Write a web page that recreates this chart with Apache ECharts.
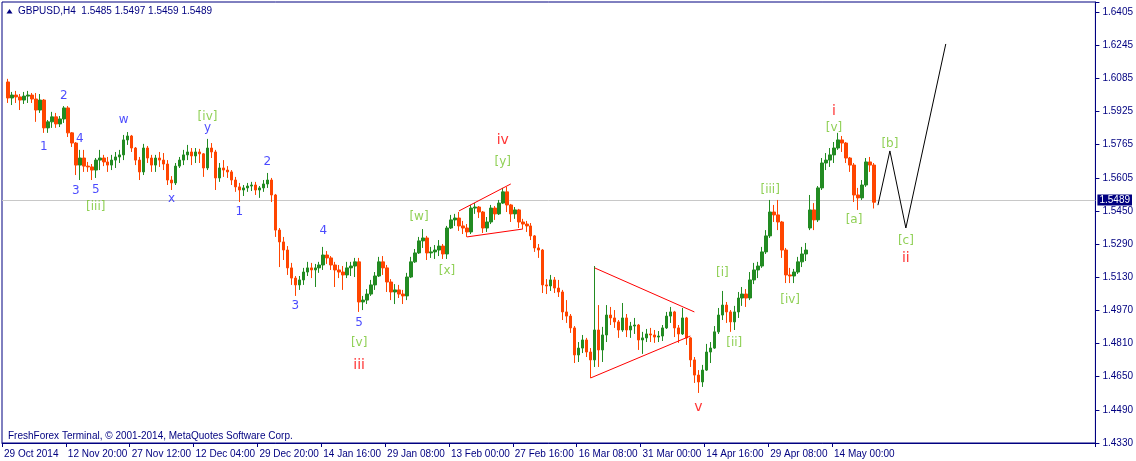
<!DOCTYPE html>
<html><head><meta charset="utf-8">
<script src="https://cdn.jsdelivr.net/npm/echarts@6/dist/echarts.min.js"></script>
<style>html,body{margin:0;padding:0;background:#fff}#c{width:1136px;height:461px}</style>
</head><body><div id="c"></div>
<script>
// ---- data ----
const xLabels = ['29 Oct 2014','12 Nov 20:00','27 Nov 12:00','12 Dec 04:00','29 Dec 20:00','14 Jan 16:00','29 Jan 08:00','13 Feb 00:00','27 Feb 16:00','16 Mar 08:00','31 Mar 00:00','14 Apr 16:00','29 Apr 08:00','14 May 00:00'];
const yLabels = ['1.4330','1.4490','1.4650','1.4810','1.4970','1.5130','1.5290','1.5450','1.5605','1.5765','1.5925','1.6085','1.6245','1.6405'];
const ohlcTitle = ['1.5485','1.5497','1.5459','1.5489'];
const lastPrice = 1.5489;
const firstSlot = 1;
const slotCount = 274;
const labelEvery = 16;
// [open, close, low, high] per 16-hour slot
const candles = [
[1.6068,1.5991,1.5967,1.6083],[1.5991,1.6005,1.5957,1.6020],[1.6005,1.5996,1.5967,1.6025],[1.5996,1.5981,1.5933,1.6010],
[1.5981,1.6000,1.5962,1.6020],[1.6000,1.6005,1.5967,1.6025],[1.6005,1.5986,1.5967,1.6015],[1.5986,1.5933,1.5876,1.6015],
[1.5933,1.5981,1.5919,1.6010],[1.5981,1.5847,1.5823,1.5986],[1.5847,1.5876,1.5823,1.5885],[1.5876,1.5900,1.5847,1.5924],
[1.5900,1.5866,1.5847,1.5919],[1.5866,1.5890,1.5851,1.5904],[1.5890,1.5943,1.5871,1.5952],[1.5943,1.5823,1.5803,1.5952],
[1.5823,1.5774,1.5755,1.5827],[1.5774,1.5668,1.5620,1.5779],[1.5668,1.5702,1.5596,1.5741],[1.5702,1.5663,1.5635,1.5741],
[1.5663,1.5659,1.5635,1.5683],[1.5659,1.5644,1.5596,1.5673],[1.5644,1.5692,1.5606,1.5702],[1.5692,1.5702,1.5644,1.5741],
[1.5702,1.5683,1.5663,1.5717],[1.5683,1.5668,1.5635,1.5707],[1.5668,1.5692,1.5644,1.5717],[1.5692,1.5707,1.5654,1.5731],
[1.5707,1.5717,1.5678,1.5741],[1.5717,1.5789,1.5692,1.5813],[1.5789,1.5808,1.5765,1.5827],[1.5808,1.5750,1.5731,1.5813],
[1.5750,1.5692,1.5668,1.5755],[1.5692,1.5635,1.5596,1.5707],[1.5635,1.5750,1.5620,1.5770],[1.5750,1.5702,1.5678,1.5760],
[1.5702,1.5668,1.5635,1.5717],[1.5668,1.5702,1.5635,1.5717],[1.5702,1.5692,1.5659,1.5731],[1.5692,1.5673,1.5644,1.5726],
[1.5673,1.5596,1.5572,1.5692],[1.5596,1.5582,1.5548,1.5615],[1.5582,1.5663,1.5572,1.5678],[1.5663,1.5692,1.5654,1.5707],
[1.5692,1.5717,1.5668,1.5741],[1.5717,1.5731,1.5692,1.5765],[1.5731,1.5712,1.5668,1.5750],[1.5712,1.5731,1.5678,1.5750],
[1.5731,1.5722,1.5678,1.5746],[1.5722,1.5654,1.5611,1.5726],[1.5654,1.5750,1.5644,1.5794],[1.5750,1.5731,1.5702,1.5774],
[1.5731,1.5606,1.5548,1.5741],[1.5606,1.5654,1.5587,1.5678],[1.5654,1.5644,1.5611,1.5692],[1.5644,1.5635,1.5606,1.5663],
[1.5635,1.5596,1.5572,1.5644],[1.5596,1.5563,1.5539,1.5611],[1.5563,1.5548,1.5490,1.5582],[1.5548,1.5558,1.5519,1.5572],
[1.5558,1.5567,1.5539,1.5582],[1.5567,1.5572,1.5543,1.5587],[1.5572,1.5548,1.5524,1.5587],[1.5548,1.5558,1.5510,1.5567],
[1.5558,1.5577,1.5539,1.5596],[1.5577,1.5596,1.5558,1.5630],[1.5596,1.5524,1.5490,1.5606],[1.5524,1.5355,1.5322,1.5529],
[1.5355,1.5298,1.5177,1.5365],[1.5298,1.5259,1.5211,1.5322],[1.5259,1.5173,1.5139,1.5278],[1.5173,1.5124,1.5091,1.5197],
[1.5124,1.5091,1.5038,1.5134],[1.5091,1.5115,1.5067,1.5134],[1.5115,1.5153,1.5091,1.5173],[1.5153,1.5173,1.5134,1.5202],
[1.5173,1.5163,1.5124,1.5197],[1.5163,1.5173,1.5081,1.5192],[1.5173,1.5187,1.5149,1.5202],[1.5187,1.5235,1.5163,1.5274],
[1.5235,1.5221,1.5192,1.5254],[1.5221,1.5187,1.5163,1.5230],[1.5187,1.5163,1.5081,1.5202],[1.5163,1.5153,1.5124,1.5187],
[1.5153,1.5139,1.5067,1.5182],[1.5139,1.5173,1.5124,1.5202],[1.5173,1.5182,1.5134,1.5202],[1.5182,1.5202,1.5129,1.5221],
[1.5202,1.5009,1.4961,1.5221],[1.5009,1.5018,1.4970,1.5038],[1.5018,1.5047,1.4999,1.5071],[1.5047,1.5091,1.5038,1.5115],
[1.5091,1.5134,1.5067,1.5153],[1.5134,1.5202,1.5129,1.5226],[1.5202,1.5173,1.5139,1.5230],[1.5173,1.5105,1.5057,1.5187],
[1.5105,1.5057,1.5018,1.5119],[1.5057,1.5067,1.4999,1.5095],[1.5067,1.5047,1.5028,1.5091],[1.5047,1.5038,1.4999,1.5067],
[1.5038,1.5129,1.5018,1.5149],[1.5129,1.5202,1.5124,1.5226],[1.5202,1.5245,1.5197,1.5264],[1.5245,1.5303,1.5240,1.5322],
[1.5303,1.5317,1.5269,1.5360],[1.5317,1.5245,1.5211,1.5327],[1.5245,1.5250,1.5221,1.5274],[1.5250,1.5259,1.5216,1.5283],
[1.5259,1.5278,1.5230,1.5307],[1.5278,1.5240,1.5216,1.5288],[1.5240,1.5365,1.5216,1.5375],[1.5365,1.5404,1.5360,1.5428],
[1.5404,1.5413,1.5375,1.5433],[1.5413,1.5375,1.5351,1.5442],[1.5375,1.5365,1.5336,1.5399],[1.5365,1.5346,1.5322,1.5384],
[1.5346,1.5461,1.5336,1.5476],[1.5461,1.5466,1.5433,1.5485],[1.5466,1.5442,1.5413,1.5471],[1.5442,1.5365,1.5341,1.5447],
[1.5365,1.5394,1.5346,1.5418],[1.5394,1.5461,1.5384,1.5476],[1.5461,1.5433,1.5404,1.5471],[1.5433,1.5485,1.5428,1.5500],
[1.5485,1.5539,1.5481,1.5558],[1.5539,1.5476,1.5442,1.5563],[1.5476,1.5433,1.5394,1.5481],[1.5433,1.5452,1.5409,1.5466],
[1.5452,1.5394,1.5365,1.5457],[1.5394,1.5384,1.5360,1.5409],[1.5384,1.5375,1.5346,1.5399],[1.5375,1.5327,1.5307,1.5389],
[1.5327,1.5269,1.5250,1.5331],[1.5269,1.5259,1.5221,1.5288],[1.5259,1.5091,1.5052,1.5264],[1.5091,1.5086,1.5047,1.5119],
[1.5086,1.5115,1.5062,1.5139],[1.5115,1.5076,1.5052,1.5129],[1.5076,1.5057,1.5033,1.5115],[1.5057,1.4961,1.4922,1.5067],
[1.4961,1.4941,1.4908,1.5018],[1.4941,1.4884,1.4860,1.4951],[1.4884,1.4754,1.4715,1.4893],[1.4754,1.4787,1.4720,1.4816],
[1.4787,1.4826,1.4763,1.4850],[1.4826,1.4768,1.4744,1.4836],[1.4768,1.4730,1.4643,1.4787],[1.4730,1.4874,1.4696,1.5182],
[1.4874,1.4778,1.4696,1.4994],[1.4778,1.4850,1.4720,1.4889],[1.4850,1.4946,1.4816,1.4994],[1.4946,1.4932,1.4898,1.4985],
[1.4932,1.4913,1.4884,1.4970],[1.4913,1.4874,1.4836,1.4922],[1.4874,1.4932,1.4865,1.5004],[1.4932,1.4874,1.4840,1.4951],
[1.4874,1.4893,1.4836,1.4913],[1.4893,1.4898,1.4855,1.4932],[1.4898,1.4826,1.4778,1.4903],[1.4826,1.4836,1.4759,1.4865],
[1.4836,1.4855,1.4816,1.4879],[1.4855,1.4850,1.4816,1.4884],[1.4850,1.4840,1.4812,1.4874],[1.4840,1.4845,1.4816,1.4869],
[1.4845,1.4884,1.4821,1.4898],[1.4884,1.4941,1.4879,1.4961],[1.4941,1.4961,1.4908,1.4985],[1.4961,1.4884,1.4840,1.4966],
[1.4884,1.4855,1.4812,1.4898],[1.4855,1.4932,1.4850,1.4980],[1.4932,1.4836,1.4802,1.4937],[1.4836,1.4730,1.4696,1.4840],
[1.4730,1.4657,1.4619,1.4744],[1.4657,1.4624,1.4571,1.4681],[1.4624,1.4681,1.4600,1.4706],[1.4681,1.4768,1.4677,1.4807],
[1.4768,1.4787,1.4715,1.4816],[1.4787,1.4865,1.4783,1.4893],[1.4865,1.4946,1.4855,1.4980],[1.4946,1.4994,1.4922,1.5062],
[1.4994,1.4961,1.4908,1.5009],[1.4961,1.4913,1.4865,1.4970],[1.4913,1.4961,1.4874,1.4990],[1.4961,1.5028,1.4932,1.5057],
[1.5028,1.5047,1.4990,1.5081],[1.5047,1.5028,1.4985,1.5071],[1.5028,1.5115,1.5018,1.5153],[1.5115,1.5163,1.5095,1.5197],
[1.5163,1.5182,1.5124,1.5202],[1.5182,1.5250,1.5173,1.5274],[1.5250,1.5327,1.5240,1.5355],[1.5327,1.5442,1.5317,1.5500],
[1.5442,1.5428,1.5394,1.5476],[1.5428,1.5394,1.5355,1.5500],[1.5394,1.5259,1.5221,1.5399],[1.5259,1.5139,1.5100,1.5269],
[1.5139,1.5134,1.5100,1.5173],[1.5134,1.5153,1.5100,1.5168],[1.5153,1.5202,1.5144,1.5226],[1.5202,1.5240,1.5177,1.5274],
[1.5240,1.5259,1.5206,1.5293],[1.5365,1.5452,1.5355,1.5524],[1.5452,1.5404,1.5355,1.5485],[1.5404,1.5558,1.5394,1.5567],
[1.5558,1.5678,1.5548,1.5702],[1.5678,1.5692,1.5644,1.5726],[1.5692,1.5717,1.5659,1.5750],[1.5717,1.5750,1.5678,1.5779],
[1.5750,1.5789,1.5741,1.5823],[1.5789,1.5774,1.5731,1.5808],[1.5774,1.5702,1.5678,1.5779],[1.5702,1.5668,1.5635,1.5707],
[1.5668,1.5524,1.5490,1.5678],[1.5524,1.5510,1.5452,1.5558],[1.5510,1.5572,1.5500,1.5596],[1.5572,1.5683,1.5563,1.5702],
[1.5683,1.5668,1.5635,1.5707],[1.5668,1.5489,1.5459,1.5678]
];
// forecast path and trend lines: [slot, price]
const projection = [[219,1.5475],[222,1.5736],[226,1.5365],[236,1.6251]];
const wedgeUpper = [[114,1.5447],[127,1.5577]];
const wedgeLower = [[116,1.5322],[130,1.5360]];
const triUpper = [[148,1.5173],[173,1.4961]];
const triLower = [[147,1.4643],[172,1.4845]];
// wave labels: [slot, price, text]
const blueLabels = [[10,1.5755,'1'],[15,1.6001,'2'],[18,1.5543,'3'],[19,1.5794,'4'],[23,1.5548,'5'],[30,1.5885,'w'],[42,1.5505,'x'],[51,1.5847,'y'],
  [59,1.5442,'1'],[66,1.5683,'2'],[73,1.4990,'3'],[80,1.5351,'4'],[89,1.4908,'5']];
const greenLabels = [[23,1.5466,'[iii]'],[51,1.5900,'[iv]'],[89,1.4811,'[v]'],[104,1.5418,'[w]'],[111,1.5158,'[x]'],[125,1.5683,'[y]'],
  [180,1.5148,'[i]'],[183,1.4811,'[ii]'],[192,1.5548,'[iii]'],[197,1.5018,'[iv]'],[208,1.5847,'[v]'],[213,1.5404,'[a]'],[222,1.5770,'[b]'],[226,1.5303,'[c]']];
const redLabels = [[89,1.4706,'iii'],[125,1.5789,'iv'],[174,1.4503,'v'],[208,1.5928,'i'],[226,1.5221,'ii']];

// ---- chart ----
const NAVY = '#000080';
const FONT = '"Liberation Sans", Arial, sans-serif';
const cats = Array.from({length: slotCount}, (_, i) => String(i));
const candleData = candles.map((c, k) => [k + firstSlot, c[0], c[1], c[2], c[3]]);
const showTick = (i) => i % labelEvery === 0 && i / labelEvery < xLabels.length;
function labelSeries(arr, color, size) {
  return {
    type: 'scatter', data: arr, symbolSize: 0, silent: true, z: 5,
    encode: {x: 0, y: 1},
    label: {show: true, position: 'inside', formatter: p => p.value[2], color: color,
            fontSize: size, fontFamily: '"DejaVu Sans", sans-serif'}
  };
}
function lineSeries(arr, color) {
  return {type: 'line', data: arr, symbol: 'none', silent: true, z: 4,
          lineStyle: {color: color, width: 1}, encode: {x: 0, y: 1}};
}
const chart = echarts.init(document.getElementById('c'), null, {renderer: 'canvas'});
chart.setOption({
  animation: false,
  backgroundColor: '#ffffff',
  grid: {left: 2, right: 40, top: 2, bottom: 18, show: true, borderColor: NAVY, borderWidth: 1, backgroundColor: '#ffffff'},
  xAxis: {
    type: 'category', data: cats, boundaryGap: true,
    axisLine: {show: true, lineStyle: {color: NAVY}},
    axisTick: {show: true, interval: showTick, length: 4, lineStyle: {color: NAVY}},
    axisLabel: {interval: showTick, formatter: (v, idx) => xLabels[Math.round(idx / labelEvery)] || '',
                align: 'left', color: NAVY, fontSize: 10, fontFamily: FONT, margin: 6},
    splitLine: {show: false}
  },
  yAxis: [
    {type: 'value', min: 1.4330, max: 1.6453, show: false, splitLine: {show: false}},
    {type: 'value', min: 0, max: 13.3017, interval: 1, position: 'right',
     axisLine: {show: true, lineStyle: {color: NAVY}},
     axisTick: {show: true, length: 4, lineStyle: {color: NAVY}},
     axisLabel: {formatter: v => Math.abs(v - Math.round(v)) < 1e-6 ? (yLabels[Math.round(v)] || '') : '',
                 color: NAVY, fontSize: 10, fontFamily: FONT, margin: 7},
     splitLine: {show: false}}
  ],
  series: [
    {
      type: 'candlestick', data: candleData, barWidth: 3,
      encode: {x: 0, y: [1, 2, 3, 4]},
      itemStyle: {color: '#228B22', color0: '#FF4500', borderColor: '#228B22', borderColor0: '#FF4500', borderWidth: 1},
      markLine: {
        silent: true, symbol: ['none', 'none'], z: 1,
        lineStyle: {color: '#c8c8c8', type: 'solid', width: 1},
        label: {show: true, position: 'end', distance: 2, formatter: lastPrice.toFixed(4),
                backgroundColor: NAVY, color: '#ffffff', fontSize: 10, fontFamily: FONT, padding: [1, 2, 0, 2]},
        data: [{yAxis: lastPrice}]
      }
    },
    lineSeries(projection, '#000000'),
    lineSeries(wedgeUpper, '#ff0000'),
    lineSeries(wedgeLower, '#ff0000'),
    lineSeries(triUpper, '#ff0000'),
    lineSeries(triLower, '#ff0000'),
    labelSeries(blueLabels, '#1c1cff', 12),
    labelSeries(greenLabels, '#74c42c', 12),
    labelSeries(redLabels, '#ff0000', 14)
  ],
  graphic: [
    {type: 'polygon', shape: {points: [[6.5, 13.5], [12.5, 13.5], [9.5, 9]]}, style: {fill: NAVY}},
    {type: 'text', x: 18, y: 11, style: {text: 'GBPUSD,H4  ' + ohlcTitle.join(' '), font: '10px ' + FONT, fill: NAVY, verticalAlign: 'middle'}},
    {type: 'text', x: 8, y: 436, style: {text: 'FreshForex Terminal, \u00A9 2001-2014, MetaQuotes Software Corp.', font: '10px ' + FONT, fill: NAVY, verticalAlign: 'middle'}}
  ]
});
</script>
</body></html>
